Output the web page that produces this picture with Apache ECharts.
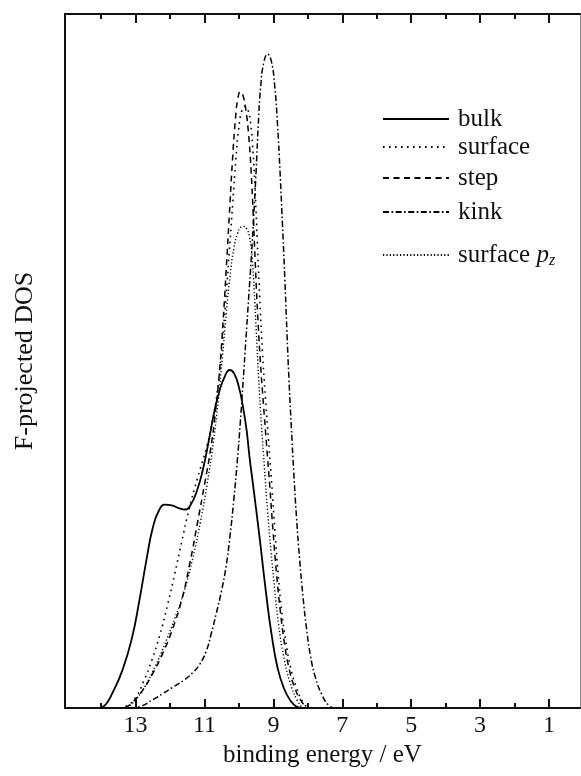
<!DOCTYPE html>
<html>
<head>
<meta charset="utf-8">
<script src="https://cdn.jsdelivr.net/npm/echarts@6/dist/echarts.min.js"></script>
<style>
html,body{margin:0;padding:0;background:#fff;}
#c{width:581px;height:776px;}
</style>
</head>
<body>
<div id="c"></div>
<script>
// binding energy (eV), F-projected DOS (arbitrary units, 0-100 = frame height)
const bulk = [[14.0,0],[13.85,0.6],[13.67,2.2],[13.38,5.5],[13.11,10.0],[12.88,15.8],[12.68,21.5],[12.50,26.0],[12.32,28.5],[12.15,29.3],[11.95,29.2],[11.75,28.8],[11.55,28.6],[11.40,29.3],[11.22,31.3],[11.05,34.3],[10.88,38.4],[10.72,42.6],[10.56,45.8],[10.40,47.9],[10.27,48.7],[10.14,48.2],[10.00,46.2],[9.88,43.3],[9.78,40.1],[9.69,36.0],[9.60,32.5],[9.40,24.5],[9.20,16.0],[9.05,10.5],[8.88,5.8],[8.70,2.9],[8.50,1.0],[8.33,0.2],[8.16,0]];
const surface = [[13.46,0],[13.23,0.4],[13.0,1.5],[12.77,3.8],[12.53,6.9],[12.30,10.5],[12.07,14.9],[11.87,19.2],[11.66,24.0],[11.45,28.6],[11.20,33.2],[10.95,37.4],[10.78,41.0],[10.64,45.2],[10.52,50.6],[10.40,57.8],[10.28,65.8],[10.18,72.8],[10.09,79.0],[10.01,83.4],[9.92,86.0],[9.83,86.7],[9.74,86.2],[9.66,84.2],[9.59,80.0],[9.53,74.5],[9.47,67.5],[9.40,59.5],[9.32,51.5],[9.23,44.6],[9.14,38.5],[9.05,32.4],[8.96,25.8],[8.86,19.2],[8.76,14.0],[8.64,9.6],[8.50,5.8],[8.32,2.8],[8.15,0.9],[8.0,0]];
const step = [[13.3,0],[13.09,0.8],[12.79,2.6],[12.50,5.0],[12.21,7.9],[11.92,11.5],[11.65,15.8],[11.42,21.0],[11.20,26.8],[11.00,32.2],[10.82,37.4],[10.68,42.8],[10.56,48.8],[10.46,55.8],[10.37,63.2],[10.28,71.0],[10.19,78.8],[10.10,85.0],[10.03,87.9],[9.96,88.8],[9.88,88.2],[9.80,86.2],[9.72,82.6],[9.65,77.6],[9.59,71.5],[9.53,64.5],[9.46,57.0],[9.38,50.0],[9.29,43.8],[9.20,38.0],[9.10,31.6],[9.01,25.4],[8.91,19.4],[8.80,14.0],[8.69,9.7],[8.56,6.0],[8.38,2.9],[8.19,1.0],[8.03,0]];
const kink = [[13.17,0],[12.88,0.2],[12.5,1.2],[12.2,2.1],[11.92,3.0],[11.60,4.0],[11.34,5.1],[11.14,6.3],[10.95,8.2],[10.80,10.8],[10.66,13.6],[10.51,16.8],[10.38,20.2],[10.26,24.8],[10.15,30.0],[10.05,35.5],[9.96,41.2],[9.88,47.0],[9.80,53.0],[9.72,59.0],[9.64,65.0],[9.57,71.0],[9.50,77.6],[9.44,84.0],[9.37,89.5],[9.28,93.0],[9.17,94.2],[9.06,93.2],[8.96,89.5],[8.88,84.0],[8.81,77.5],[8.74,70.0],[8.67,62.0],[8.61,54.5],[8.55,47.5],[8.48,40.5],[8.41,34.0],[8.33,27.5],[8.24,21.5],[8.14,16.0],[8.04,11.5],[7.92,7.4],[7.78,4.4],[7.60,2.0],[7.40,0.4],[7.22,0]];
const surfacePz = [[13.23,0],[13.0,1.2],[12.74,3.0],[12.45,5.8],[12.16,9.1],[11.87,12.8],[11.58,17.0],[11.34,21.6],[11.12,26.8],[10.92,32.4],[10.74,38.4],[10.60,44.4],[10.48,50.6],[10.37,56.8],[10.26,62.2],[10.15,66.2],[10.04,68.4],[9.94,69.3],[9.86,69.4],[9.77,69.0],[9.69,67.8],[9.62,65.0],[9.56,60.4],[9.50,54.5],[9.43,47.6],[9.35,41.0],[9.26,34.6],[9.17,28.4],[9.07,22.6],[8.96,17.0],[8.85,12.0],[8.70,7.4],[8.53,3.9],[8.32,1.2],[8.15,0]];

const majorTicks = [13,11,9,7,5,3,1];
const minorTicks = [14,12,10,8,6,4,2];
const tickLabels = [13,11,9,7,5,3,1];
const seriesNames = ['bulk','surface','step','kink','surface p_z'];

const FONT = '"Liberation Serif","DejaVu Serif",serif';
const INK = '#111';

const chart = echarts.init(document.getElementById('c'), null, {renderer:'canvas'});

const MAIN = {left:65, right:1, top:14, bottom:68, containLabel:false};
const TOPSTRIP = {left:65, right:1, top:0, height:14, containLabel:false};

function xa(grid, ticks, len, inside, showLine, showLabel){
  return {
    gridIndex:grid, type:'value', min:0.1, max:15.05, inverse:true, position:'bottom',
    axisLine:{show:showLine, onZero:false, lineStyle:{color:INK, width:2}},
    axisTick:{show:true, inside:inside, length:len, customValues:ticks, lineStyle:{color:INK, width:2}},
    axisLabel:{show:showLabel, customValues:tickLabels, margin:6, fontFamily:FONT, fontSize:24, color:INK},
    splitLine:{show:false}
  };
}

const xAxes = [
  Object.assign(xa(0, majorTicks, 9, true, true, true), {
    name:'binding energy / eV', nameLocation:'middle', nameGap:32,
    nameTextStyle:{fontFamily:FONT, fontSize:25, color:INK}
  }),
  xa(1, minorTicks, 5, true, false, false),
  xa(2, majorTicks, 9, false, true, false),   // top frame edge, ticks pointing down into the plot
  xa(3, minorTicks, 5, false, false, false)
];

function hiddenY(grid){ return {gridIndex:grid, type:'value', min:0, max:1, show:false}; }

const styles = {
  'bulk': {type:'solid', width:1.8},
  'surface': {type:[1.6,4.4], width:1.6},
  'step': {type:[6,4.5], width:1.5},
  'kink': {type:[6,2.5,1.6,2.5], width:1.5},
  'surface p_z': {type:[1.2,2.2], width:1.4}
};
const dataMap = {'bulk':bulk,'surface':surface,'step':step,'kink':kink,'surface p_z':surfacePz};

const series = seriesNames.map(n => ({
  name:n, type:'line', xAxisIndex:0, yAxisIndex:0,
  data:dataMap[n], symbol:'none', showSymbol:false, smooth:0.5,
  lineStyle:Object.assign({color:'#000', cap:'butt'}, styles[n]),
  itemStyle:{color:'#000'}, animation:false
}));

const legendTops = [106,134,165,199,241];
const legends = seriesNames.map((n,i) => ({
  data:[n], left:382, top:legendTops[i], orient:'vertical', padding:0,
  itemWidth:66, itemHeight:14, itemGap:0, selectedMode:false,
  itemStyle:{opacity:0},
  textStyle:{fontFamily:FONT, fontSize:25, color:INK, lineHeight:26, padding:[0,0,0,4],
    rich:{
      n:{fontFamily:FONT, fontSize:25, color:INK, lineHeight:26, verticalAlign:'middle'},
      i:{fontFamily:FONT, fontSize:25, color:INK, lineHeight:26, fontStyle:'italic', verticalAlign:'middle'},
      s:{fontFamily:FONT, fontSize:16, color:INK, lineHeight:20, fontStyle:'italic', verticalAlign:'middle', padding:[12,0,0,0]}
    }},
  formatter: function(name){
    if(name === 'surface p_z') return '{n|surface }{i|p}{s|z}';
    return name;
  }
}));

chart.setOption({
  animation:false,
  backgroundColor:'#fff',
  grid:[MAIN, Object.assign({}, MAIN), TOPSTRIP, Object.assign({}, TOPSTRIP)],
  legend:legends,
  xAxis:xAxes,
  yAxis:[
    {gridIndex:0, type:'value', min:0, max:100, position:'left',
     name:'F-projected DOS', nameLocation:'middle', nameGap:27,
     nameTextStyle:{fontFamily:FONT, fontSize:26, color:INK},
     axisLine:{show:true, lineStyle:{color:INK, width:2}},
     axisTick:{show:false}, axisLabel:{show:false}, splitLine:{show:false}},
    {gridIndex:0, type:'value', min:0, max:100, position:'right',
     axisLine:{show:true, lineStyle:{color:'#888', width:1}},
     axisTick:{show:false}, axisLabel:{show:false}, splitLine:{show:false}},
    hiddenY(1), hiddenY(2), hiddenY(3)
  ],
  series:series
});
</script>
</body>
</html>
